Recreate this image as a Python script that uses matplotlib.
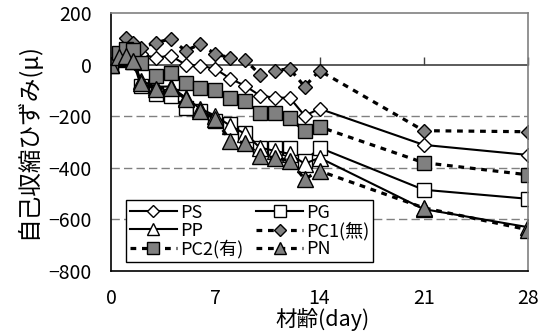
import matplotlib

matplotlib.use("Agg")
import matplotlib.pyplot as plt

plt.rcParams["font.family"] = ["Noto Sans CJK JP", "DejaVu Sans"]

# measurement ages (days) and autogenous shrinkage (micro strain)
days = [0, 0.5, 1, 1.5, 2, 3, 4, 5, 6, 7, 8, 9, 10, 11, 12, 13, 14, 21, 28]
ps = [0, 20, 40, 45, 40, 27, 35, 0, -4, -16, -54, -82, -120, -128, -128, -198, -171, -311, -350]
pg = [0, 25, 30, 10, -82, -113, -120, -167, -179, -217, -229, -264, -322, -322, -322, -375, -322, -485, -520]
pp = [0, 20, 25, 20, -62, -85, -85, -128, -171, -198, -237, -268, -322, -334, -346, -384, -361, -560, -630]
pc1 = [0, 40, 105, 85, 66, 85, 100, 54, 80, 41, 27, 19, -39, -23, -16, -85, -23, -256, -260]
pc2 = [0, 45, 62, 58, 8, -43, -31, -70, -89, -97, -128, -140, -186, -186, -206, -258, -241, -380, -427]
pn = [0, 30, 35, 15, -70, -93, -89, -132, -179, -210, -295, -303, -353, -361, -373, -443, -412, -555, -640]

x_ticks = [0, 7, 14, 21, 28]
y_ticks = [200, 0, -200, -400, -600, -800]

fig = plt.figure(figsize=(5.42, 3.35), dpi=100)
ax = fig.add_axes([0.205, 0.191, 0.769, 0.770])

solid = dict(color="black", lw=1.5, markeredgecolor="black", markeredgewidth=1.0)
dotted = dict(color="black", lw=2.3, linestyle=(0, (1.8, 1.8)),
              markeredgecolor="black", markeredgewidth=1.0)

ax.plot(days, ps, marker="D", ms=7.5, mfc="white", label="PS", **solid)
ax.plot(days, pg, marker="s", ms=10.5, mfc="white", label="PG", **solid)
ax.plot(days, pp, marker="^", ms=11, mfc="white", label="PP", **solid)
ax.plot(days, pc1, marker="D", ms=7.5, mfc="#808080", label="PC1(無)", **dotted)
ax.plot(days, pc2, marker="s", ms=10.5, mfc="#808080", label="PC2(有)", **dotted)
ax.plot(days, pn, marker="^", ms=11, mfc="#808080", label="PN", **dotted)

ax.set_xlim(0, 28)
ax.set_ylim(-800, 200)
ax.set_xticks(x_ticks)
ax.set_yticks(y_ticks)
ax.tick_params(axis="both", length=0, labelsize=14)
ax.tick_params(axis="x", pad=12)
ax.tick_params(axis="y", pad=14)

for v in [-200, -400, -600]:
    ax.axhline(v, color="#808080", lw=1.0, linestyle=(0, (6, 3)), zorder=0)

ax.spines["left"].set_color("black")
ax.spines["bottom"].set_color("black")
ax.spines["top"].set_color("#808080")
ax.spines["right"].set_color("#808080")
for s in ax.spines.values():
    s.set_linewidth(1.2)

# category axis crossing at zero, ticks pointing up
zero_axis = ax.secondary_xaxis(0, transform=ax.transData)
zero_axis.set_xticks(x_ticks)
zero_axis.tick_params(direction="in", length=6, width=1, color="#404040",
                      labelbottom=False, labeltop=False)
zero_axis.spines["bottom"].set_color("#404040")
zero_axis.spines["bottom"].set_linewidth(1.2)

fig.text(0.595, 0.045, "材齢(day)", fontsize=15.5, ha="center", va="center")
fig.text(0.05, 0.58, "自己収縮ひずみ(μ)", fontsize=17, ha="center",
         va="center", rotation=90)

h, l = ax.get_legend_handles_labels()
order = [0, 2, 4, 1, 3, 5]
leg = ax.legend([h[i] for i in order], [l[i] for i in order], ncol=2,
                loc="lower left", bbox_to_anchor=(0.027, 0.02),
                fontsize=13, handlelength=2.6, handletextpad=0.2,
                columnspacing=0.7, labelspacing=0.0, borderpad=0.2,
                borderaxespad=0.2, fancybox=False, framealpha=1,
                edgecolor="black", markerscale=0.8)
leg.get_frame().set_linewidth(1.0)

fig.savefig("out.png", dpi=100)
